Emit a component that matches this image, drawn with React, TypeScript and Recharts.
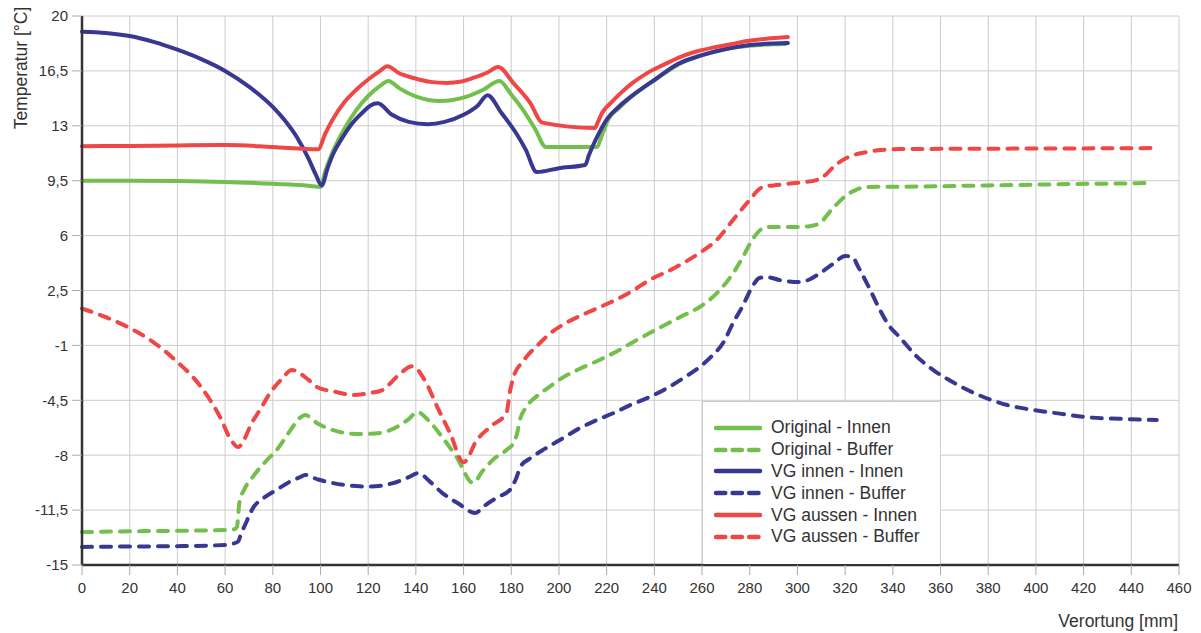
import { LineChart, Line, XAxis, YAxis, CartesianGrid, Legend } from "recharts";

// x positions [mm] and temperatures [°C] per series
const origInnenX = [0, 20, 40, 60, 80, 95, 100, 102, 105, 110, 115, 120, 125, 128.5, 133, 140.5, 150, 161, 168, 175, 180, 185, 190, 194.5, 205, 216, 218, 221, 225, 230, 240, 250, 260, 270, 280, 290, 295];
const origInnenY = [9.5, 9.5, 9.48, 9.42, 9.3, 9.18, 9.1, 10.1, 11.3, 12.8, 14.0, 14.9, 15.55, 15.86, 15.4, 14.84, 14.58, 14.84, 15.28, 15.86, 15.0, 14.0, 12.8, 11.65, 11.65, 11.65, 12.4, 13.5, 14.1, 14.8, 15.9, 16.9, 17.5, 17.9, 18.1, 18.2, 18.22];

const origBufferX = [0, 20, 40, 60, 64, 65, 66, 68, 72, 77, 82, 87, 91.5, 93.5, 99, 105, 111, 117, 125, 132, 137, 140.5, 146, 151, 157, 164, 168, 173, 178, 181, 182.5, 183.6, 186, 191, 196, 200, 210, 217, 224, 231, 238, 245, 252, 259, 266, 273, 277, 281, 284, 287, 293, 300, 305, 309.4, 314, 320.7, 325, 329, 335, 343, 360, 380, 400, 420, 440, 447];
const origBufferY = [-12.9, -12.85, -12.82, -12.77, -12.72, -12.55, -11.0, -10.2, -9.3, -8.4, -7.6, -6.5, -5.6, -5.44, -6.0, -6.39, -6.6, -6.65, -6.58, -6.2, -5.7, -5.25, -5.9, -6.84, -8.1, -9.77, -9.0, -8.2, -7.67, -7.2, -6.58, -5.76, -5.0, -4.2, -3.65, -3.2, -2.4, -1.93, -1.4, -0.8, -0.21, 0.35, 0.9, 1.45, 2.3, 3.6, 4.6, 5.72, 6.3, 6.55, 6.55, 6.55, 6.6, 6.8, 7.6, 8.59, 8.95, 9.1, 9.12, 9.12, 9.15, 9.2, 9.25, 9.3, 9.33, 9.35];

const vgInnenX = [0, 10, 20, 30, 40, 50, 60, 70, 80, 85, 90, 95, 98, 100.5, 103, 105.3, 109, 113, 118, 121, 124, 130, 137, 145, 152, 160, 166, 170, 176, 182, 186, 190.7, 200, 211, 212.5, 214, 217, 220, 225, 230, 235, 240, 250, 260, 270, 280, 290, 296];
const vgInnenY = [19.0, 18.92, 18.72, 18.35, 17.85, 17.25, 16.5, 15.5, 14.2, 13.35, 12.3, 10.9, 9.9, 9.2, 10.3, 11.2, 12.2, 13.1, 13.9, 14.3, 14.43, 13.7, 13.25, 13.1, 13.25, 13.7, 14.3, 14.95, 13.8, 12.54, 11.5, 10.05, 10.3, 10.5, 11.1, 11.65, 12.6, 13.4, 14.2, 14.84, 15.4, 15.92, 16.95, 17.5, 17.9, 18.15, 18.25, 18.28];

const vgInnenBufferX = [0, 20, 40, 60, 63, 65.5, 66.5, 68.5, 72, 76, 81.7, 87, 91.5, 93.5, 99, 105, 113, 121, 130, 137, 141, 146, 151, 158, 164.8, 169, 174, 179.5, 182, 184, 188, 194, 200.4, 208.8, 216, 223, 230, 238, 245, 252, 259, 264, 269, 273, 277, 281, 284, 287, 293, 301, 305, 309.4, 315, 320, 323, 325.5, 330, 334.6, 338, 343, 350, 357, 367, 378, 388, 399, 410, 420, 435, 450.7];
const vgInnenBufferY = [-13.85, -13.82, -13.8, -13.72, -13.65, -13.5, -13.1, -12.4, -11.3, -10.75, -10.2, -9.7, -9.4, -9.26, -9.55, -9.77, -9.95, -10.0, -9.8, -9.4, -9.14, -9.7, -10.4, -11.1, -11.68, -11.2, -10.7, -10.2, -9.5, -8.7, -8.2, -7.6, -7.03, -6.27, -5.75, -5.3, -4.8, -4.29, -3.75, -3.1, -2.38, -1.7, -0.8, 0.43, 1.5, 2.72, 3.3, 3.36, 3.15, 3.04, 3.2, 3.6, 4.2, 4.7, 4.65, 4.0, 2.7, 1.26, 0.35, -0.5, -1.7, -2.57, -3.5, -4.29, -4.8, -5.12, -5.35, -5.56, -5.68, -5.76];

const vgAussenX = [0, 20, 40, 61, 80, 99, 102, 105, 110, 115, 120, 125, 128, 133, 139, 146, 153, 159, 164, 170, 174.5, 181, 188, 193, 215, 216.5, 218, 222, 226, 231, 237, 244, 251, 258, 265, 272, 279, 287, 296];
const vgAussenY = [11.7, 11.72, 11.75, 11.78, 11.65, 11.5, 12.5, 13.37, 14.5, 15.3, 15.95, 16.5, 16.8, 16.35, 16.05, 15.8, 15.73, 15.82, 16.05, 16.4, 16.75, 15.7, 14.45, 13.2, 12.86, 13.3, 13.8, 14.5, 15.1, 15.75, 16.36, 16.9, 17.4, 17.75, 18.0, 18.2, 18.4, 18.55, 18.66];

const vgAussenBufferX = [0, 10, 20, 30, 40, 47, 53.7, 58, 62, 65.5, 68, 71, 74.6, 79, 84, 88, 95, 98.5, 106, 113.6, 120.8, 126, 132, 138.6, 144, 149, 154.3, 160, 165.6, 172, 178, 179.5, 181, 185, 192, 197, 203, 212, 221, 230, 238, 248, 259, 266, 273, 279, 285.5, 290, 296, 302, 308, 312, 315, 320, 325, 329, 335, 343, 360, 380, 400, 420, 440, 450];
const vgAussenBufferY = [1.35, 0.8, 0.11, -0.8, -2.06, -3.1, -4.48, -5.6, -6.9, -7.48, -7.0, -6.0, -5.12, -4.0, -3.1, -2.57, -3.2, -3.65, -3.95, -4.16, -4.03, -3.85, -3.0, -2.33, -3.3, -4.93, -6.58, -8.45, -7.03, -6.1, -5.3, -3.9, -3.0, -2.0, -0.85, -0.15, 0.43, 1.1, 1.7, 2.4, 3.17, 3.9, 4.9, 5.7, 7.0, 8.1, 9.1, 9.2, 9.3, 9.4, 9.54, 9.9, 10.37, 10.9, 11.2, 11.33, 11.45, 11.52, 11.53, 11.54, 11.55, 11.56, 11.57, 11.58];

const X_TICKS = [0, 20, 40, 60, 80, 100, 120, 140, 160, 180, 200, 220, 240, 260, 280, 300, 320, 340, 360, 380, 400, 420, 440, 460];
const Y_TICKS = [-15, -11.5, -8, -4.5, -1, 2.5, 6, 9.5, 13, 16.5, 20];

const GREEN = "#72bf4b";
const BLUE = "#383893";
const RED = "#ef4646";
const DASH = "10 9";
const FONT = "'Liberation Sans', Arial, sans-serif";

const toPoints = (xs: number[], ys: number[]) => xs.map((x, i) => ({ x, y: ys[i] }));

const SERIES = [
  { name: "Original - Innen", color: GREEN, dashed: false, data: toPoints(origInnenX, origInnenY) },
  { name: "Original - Buffer", color: GREEN, dashed: true, data: toPoints(origBufferX, origBufferY) },
  { name: "VG innen - Innen", color: BLUE, dashed: false, data: toPoints(vgInnenX, vgInnenY) },
  { name: "VG innen - Buffer", color: BLUE, dashed: true, data: toPoints(vgInnenBufferX, vgInnenBufferY) },
  { name: "VG aussen - Innen", color: RED, dashed: false, data: toPoints(vgAussenX, vgAussenY) },
  { name: "VG aussen - Buffer", color: RED, dashed: true, data: toPoints(vgAussenBufferX, vgAussenBufferY) },
];

const fmtNum = (v: number) => String(v).replace(".", ",");

const LegendBox = () => (
  <div
    style={{
      background: "#fff",
      border: "1px solid #cccccc",
      borderBottom: "none",
      width: 239,
      height: 163,
      boxSizing: "border-box",
      padding: "15px 0 0 9px",
      fontFamily: FONT,
    }}
  >
    {SERIES.map((s) => (
      <div key={s.name} style={{ display: "flex", alignItems: "center", height: 21.8 }}>
        <svg width={52} height={8}>
          <line
            x1={4}
            y1={4}
            x2={48}
            y2={4}
            stroke={s.color}
            strokeWidth={4.5}
            strokeLinecap="round"
            strokeDasharray={s.dashed ? "9.3 7.3" : undefined}
          />
        </svg>
        <span style={{ marginLeft: 7, fontSize: 17.5, color: "#333", whiteSpace: "nowrap" }}>{s.name}</span>
      </div>
    ))}
  </div>
);

export default function App() {
  return (
    <div style={{ position: "absolute", left: 0, top: 0, background: "#fff" }}>
      <LineChart width={1201} height={633} margin={{ top: 16, right: 22, left: 0, bottom: 0 }} style={{ fontFamily: FONT }}>
        <CartesianGrid stroke="#cccccc" strokeWidth={1} />
        <XAxis
          dataKey="x"
          type="number"
          domain={[0, 460]}
          ticks={X_TICKS}
          interval={0}
          height={68}
          axisLine={{ stroke: "#333", strokeWidth: 2.5 }}
          tickLine={{ stroke: "#aaa" }}
          tickSize={10}
          tickMargin={7}
          tick={{ fill: "#333", fontSize: 15 }}
          label={{
            content: () => (
              <text x={1178} y={627} textAnchor="end" fontSize={17.5} fill="#333" fontFamily={FONT}>
                Verortung [mm]
              </text>
            ),
          }}
        />
        <YAxis
          type="number"
          domain={[-15, 20]}
          ticks={Y_TICKS}
          interval={0}
          width={82}
          axisLine={{ stroke: "#333", strokeWidth: 2.5 }}
          tickLine={{ stroke: "#aaa" }}
          tickSize={10}
          tickMargin={4}
          tick={{ fill: "#333", fontSize: 15 }}
          tickFormatter={fmtNum}
          label={{
            content: () => (
              <text transform="translate(27,68) rotate(-90)" textAnchor="middle" fontSize={17.5} fill="#333" fontFamily={FONT}>
                Temperatur [°C]
              </text>
            ),
          }}
        />
        <Legend
          layout="vertical"
          align="center"
          verticalAlign="middle"
          content={() => <LegendBox />}
          wrapperStyle={{ position: "absolute", left: 702, top: 401, width: 239, height: 163 }}
        />
        {SERIES.map((s) => (
          <Line
            key={s.name}
            name={s.name}
            data={s.data}
            dataKey="y"
            type="monotone"
            stroke={s.color}
            strokeWidth={4}
            strokeDasharray={s.dashed ? DASH : undefined}
            strokeLinecap="round"
            strokeLinejoin="round"
            dot={false}
            activeDot={false}
            isAnimationActive={false}
          />
        ))}
      </LineChart>
    </div>
  );
}
